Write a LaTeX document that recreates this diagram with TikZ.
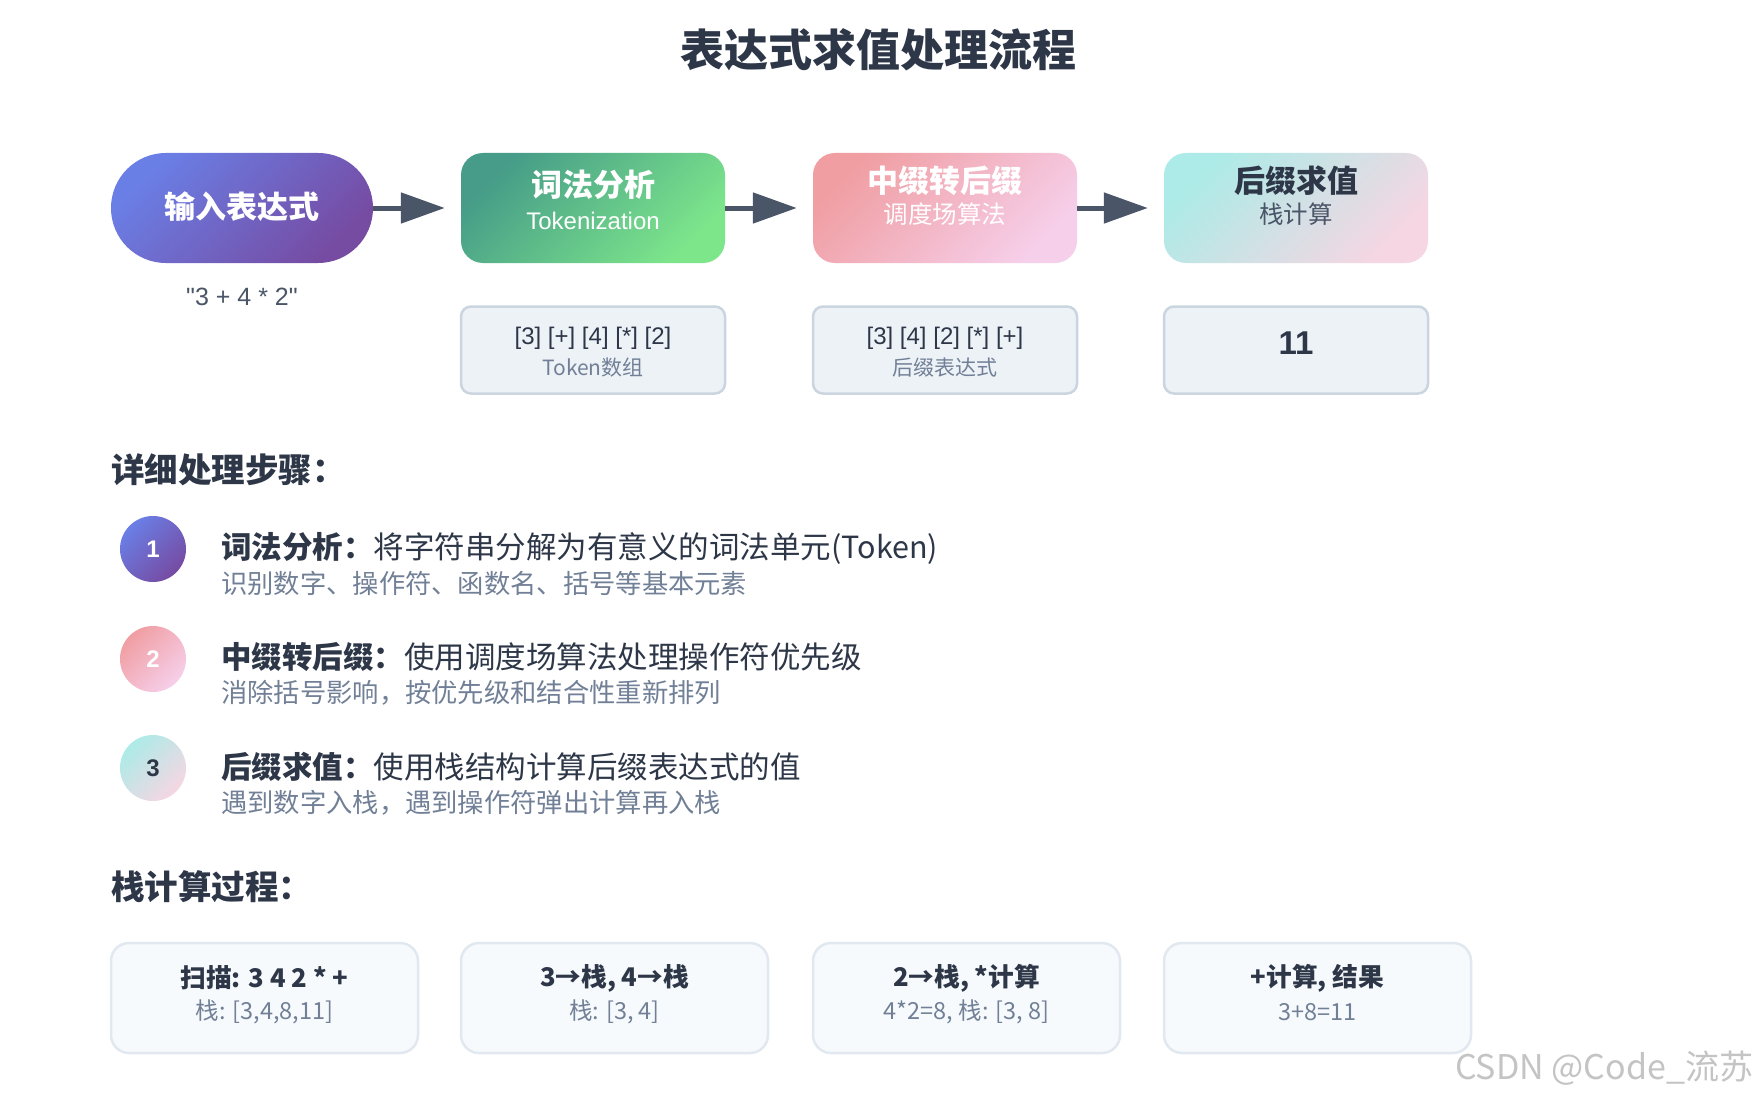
\documentclass[tikz,border=0pt]{standalone}
\usepackage{fontspec}
\setmainfont{Noto Sans CJK SC}
\newfontfamily\latinf{Liberation Sans}
\usetikzlibrary{arrows.meta}
\definecolor{ink}{HTML}{2D3748}
\definecolor{slate}{HTML}{4A5568}
\definecolor{muted}{HTML}{718096}
\definecolor{pA}{HTML}{6A7FE6}
\definecolor{pB}{HTML}{764BA2}
\definecolor{gA}{HTML}{469C88}
\definecolor{gB}{HTML}{7DE68B}
\definecolor{rA}{HTML}{F09EA2}
\definecolor{rB}{HTML}{F6CFEA}
\definecolor{tA}{HTML}{ACEBE7}
\definecolor{tB}{HTML}{F6D6E3}
\definecolor{resfill}{HTML}{EDF2F7}
\definecolor{resline}{HTML}{CBD5E0}
\definecolor{stfill}{HTML}{F7FAFC}
\definecolor{stline}{HTML}{E2E8F0}
\definecolor{wmark}{HTML}{C4C4C4}
\newcommand{\fs}[1]{\fontsize{#1}{#1}\selectfont}
\begin{document}
\begin{tikzpicture}[x=1pt,y=-1pt,
  stagebox/.style={rectangle, rounded corners=22pt, minimum width=264pt, minimum height=110pt, inner sep=0pt},
  purpleshade/.style={top color=pA, bottom color=pB, shading angle=45},
  greenshade/.style={top color=gA, bottom color=gB, shading angle=45},
  pinkshade/.style={top color=rA, bottom color=rB, shading angle=45},
  tealshade/.style={top color=tA, bottom color=tB, shading angle=45},
  headtxt/.style={font=\bfseries\fs{31}, inner sep=0pt},
  subtxt/.style={font=\fs{24.5}, inner sep=0pt},
  resbox/.style={rectangle, rounded corners=10pt, minimum width=264pt, minimum height=87pt, fill=resfill, draw=resline, line width=2.5pt, inner sep=0pt},
  stepbox/.style={rectangle, rounded corners=18pt, minimum width=307pt, minimum height=110pt, fill=stfill, draw=stline, line width=2.5pt, inner sep=0pt},
  flowarrow/.style={draw=slate, line width=5pt, -{Triangle[length=44pt,width=30pt]}, shorten >=16pt},
  numcirc/.style={circle, minimum size=66pt, inner sep=0pt, font=\latinf\bfseries\fs{24}},
  sectitle/.style={anchor=west, inner sep=0pt, font=\bfseries\fs{33.5}, text=ink},
  stepmain/.style={anchor=west, inner sep=0pt, font=\fs{30.5}, text=ink},
  stepsub/.style={anchor=west, inner sep=0pt, font=\fs{26.3}, text=muted},
  kmain/.style={inner sep=0pt, font=\bfseries\fs{25.7}, text=ink},
  ksub/.style={inner sep=0pt, font=\fs{23.5}, text=muted},
]
\useasboundingbox[fill=white] (0,0) rectangle (1756,1097);

\node[inner sep=0pt, font=\bfseries\fs{44}, text=ink] (title) at (878,50) {表达式求值处理流程};

% top flow
\node[rectangle, rounded corners=54.9pt, minimum width=262pt, minimum height=110pt, inner sep=0pt, purpleshade] (inp) at (242,208) {};
\node[headtxt, text=white] (inpT) at (242,207) {输入表达式};
\node[inner sep=0pt, font=\latinf\fs{25}, text=slate] (inpX) at (242,297) {"3 + 4 * 2"};

\node[stagebox, greenshade] (tok) at (593,208) {};
\node[headtxt, text=white] (tokT) at (593,185) {词法分析};
\node[subtxt, text=white, font=\latinf\fs{24}] (tokS) at (593,221) {Tokenization};

\node[stagebox, pinkshade] (inf) at (945,208) {};
\node[headtxt, text=white] (infT) at (945,181) {中缀转后缀};
\node[subtxt, text=white] (infS) at (945,214) {调度场算法};

\node[stagebox, tealshade] (ev) at (1296,208) {};
\node[headtxt, text=ink] (evT) at (1296,181) {后缀求值};
\node[subtxt, text=slate] (evS) at (1296,214) {栈计算};

\draw[flowarrow] (inp) -- (tok);
\draw[flowarrow] (tok) -- (inf);
\draw[flowarrow] (inf) -- (ev);

% result boxes
\node[resbox] (r1) at (593,350) {};
\node[inner sep=0pt, font=\latinf\fs{24}, text=ink] (r1a) at (593,338) {[3] [+] [4] [*] [2]};
\node[inner sep=0pt, font=\fs{21}, text=muted] (r1b) at (593,368) {Token数组};

\node[resbox] (r2) at (945,350) {};
\node[inner sep=0pt, font=\latinf\fs{24}, text=ink] (r2a) at (945,338) {[3] [4] [2] [*] [+]};
\node[inner sep=0pt, font=\fs{21}, text=muted] (r2b) at (945,368) {后缀表达式};

\node[resbox] (r3) at (1296,350) {};
\node[inner sep=0pt, font=\latinf\bfseries\fs{33}, text=ink] (r3a) at (1296,343) {11};

% detailed steps
\node[sectitle] (sec1) at (111,470) {详细处理步骤：};

\node[numcirc, purpleshade, text=white] (c1) at (153,549) {1};
\node[stepmain] (s1) at (221,548) {{\bfseries 词法分析：}将字符串分解为有意义的词法单元(Token)};
\node[stepsub] (s1b) at (221,583) {识别数字、操作符、函数名、括号等基本元素};

\node[numcirc, pinkshade, text=white] (c2) at (153,659) {2};
\node[stepmain] (s2) at (221,657) {{\bfseries 中缀转后缀：}使用调度场算法处理操作符优先级};
\node[stepsub] (s2b) at (221,693) {消除括号影响，按优先级和结合性重新排列};

\node[numcirc, tealshade, text=ink] (c3) at (153,768) {3};
\node[stepmain] (s3) at (221,767) {{\bfseries 后缀求值：}使用栈结构计算后缀表达式的值};
\node[stepsub] (s3b) at (221,803) {遇到数字入栈，遇到操作符弹出计算再入栈};

% stack process
\node[sectitle] (sec2) at (111,887) {栈计算过程：};

\node[stepbox] (k1) at (264.5,998) {};
\node[kmain] (k1a) at (264.5,978) {扫描: 3 4 2 * +};
\node[ksub] (k1b) at (264.5,1012) {栈: [3,4,8,11]};

\node[stepbox] (k2) at (614.5,998) {};
\node[kmain] (k2a) at (614.5,978) {3→栈, 4→栈};
\node[ksub] (k2b) at (614.5,1012) {栈: [3, 4]};

\node[stepbox] (k3) at (966.5,998) {};
\node[kmain] (k3a) at (966.5,978) {2→栈, *计算};
\node[ksub] (k3b) at (966.5,1012) {4*2=8, 栈: [3, 8]};

\node[stepbox] (k4) at (1317.5,998) {};
\node[kmain] (k4a) at (1317.5,978) {+计算, 结果};
\node[ksub] (k4b) at (1317.5,1012) {3+8=11};

\node[inner sep=0pt, font=\fs{34}, text=wmark] (wm) at (1604,1068) {CSDN @Code\_流苏};
\end{tikzpicture}
\end{document}
